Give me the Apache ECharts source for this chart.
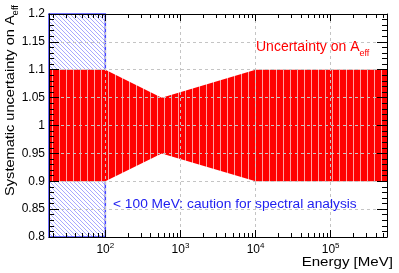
<!DOCTYPE html>
<html><head><meta charset="utf-8">
<script src="https://cdn.jsdelivr.net/npm/echarts@6/dist/echarts.min.js"></script>
<style>html,body{margin:0;padding:0;background:#fff}#c{width:399px;height:273px}</style>
</head><body><div id="c"></div>
<script>
// ---- data ----
const energies = [17.7828, 100, 562.34, 10000, 562341];   // MeV
const upper = [1.1, 1.1, 1.05, 1.1, 1.1];
const lower = [0.9, 0.9, 0.95, 0.9, 0.9];
const cautionEnergy = [17.7828, 100];
const cautionY = [0.8, 1.2];
const xMin = 17.7828, xMax = 562341;
const yMin = 0.8, yMax = 1.2, yStep = 0.05;
const xMajorTicks = [100, 1000, 10000, 100000];
const xMajorExp = {100: '2', 1000: '3', 10000: '4', 100000: '5'};
const xMinorMult = [2, 3, 4, 5, 6, 7, 8, 9];
const xDecades = [10, 100, 1000, 10000, 100000];

const xMinorTicks = [];
xDecades.forEach(d => xMinorMult.forEach(m => { const v = d * m; if (v > xMin && v < xMax) xMinorTicks.push(v); }));

const FONT = 'Liberation Sans, Arial, Helvetica, sans-serif';

function makeRed() {
  const c = document.createElement('canvas'); c.width = 7; c.height = 8;
  const g = c.getContext('2d');
  g.fillStyle = '#ff0000'; g.fillRect(0, 0, 7, 8);
  g.fillStyle = '#ffa0a0'; g.fillRect(3, 0, 1, 8);
  return c;
}
function makeBlue() {
  const c = document.createElement('canvas'); c.width = 4; c.height = 4;
  const g = c.getContext('2d');
  g.fillStyle = '#ffffff'; g.fillRect(0, 0, 4, 4);
  g.fillStyle = 'rgba(110,110,255,0.6)';
  for (let i = 0; i < 4; i++) g.fillRect(i, i, 1, 1);
  return c;
}
const redCanvas = makeRed(), blueCanvas = makeBlue();

const chart = echarts.init(document.getElementById('c'), null, {renderer: 'canvas'});

const gridLine = {show: true, lineStyle: {color: '#c4c4c4', type: [3, 3], width: 1}};
function xAxisDef(pos, major, labels) {
  return {
    type: 'log', logBase: 10, min: xMin, max: xMax, position: pos, z: 5,
    axisLine: {show: major, lineStyle: {color: '#000', width: 1}},
    axisTick: {show: true, inside: true, length: major ? 7 : 4, customValues: major ? xMajorTicks : xMinorTicks, lineStyle: {color: '#000'}},
    axisLabel: labels ? {
      show: true, customValues: xMajorTicks, margin: 5,
      formatter: v => '{b|10}{s|' + (xMajorExp[Math.round(v)] || '') + '}',
      rich: {b: {fontSize: 12, fontFamily: FONT, color: '#000', lineHeight: 16}, s: {fontSize: 8, fontFamily: FONT, color: '#000', verticalAlign: 'top'}}
    } : {show: false},
    splitLine: (major && pos === 'bottom') ? gridLine : {show: false},
    minorTick: {show: false}
  };
}
function yAxisDef(pos, labels) {
  return {
    type: 'value', min: yMin, max: yMax, interval: yStep, position: pos, z: 5,
    axisLine: {show: true, lineStyle: {color: '#000', width: 1}},
    axisTick: {show: true, inside: true, length: 10, lineStyle: {color: '#000'}},
    minorTick: {show: true, splitNumber: 5, length: 5, lineStyle: {color: '#000'}},
    axisLabel: labels ? {show: true, margin: 4, fontSize: 12, fontFamily: FONT, color: '#000'} : {show: false},
    splitLine: labels ? gridLine : {show: false}
  };
}

chart.setOption({
  animation: false,
  backgroundColor: '#fff',
  grid: {left: 49, right: 12, top: 14, bottom: 36, containLabel: false},
  xAxis: [xAxisDef('bottom', true, true), xAxisDef('bottom', false, false), xAxisDef('top', true, false), xAxisDef('top', false, false)],
  yAxis: [yAxisDef('left', true), yAxisDef('right', false)],
  series: [
    {
      type: 'custom', xAxisIndex: 0, yAxisIndex: 0, z: 1, silent: true,
      data: [[cautionEnergy[0], cautionY[0], cautionEnergy[1], cautionY[1]]],
      encode: {x: [0, 2], y: [1, 3]},
      renderItem: (params, api) => {
        const p1 = api.coord([api.value(0), api.value(3)]);
        const p2 = api.coord([api.value(2), api.value(1)]);
        const shape = {x: p1[0], y: p1[1], width: p2[0] - p1[0], height: p2[1] - p1[1]};
        return {type: 'group', children: [
          {type: 'rect', shape, style: {fill: {image: blueCanvas, repeat: 'repeat'}}},
          {type: 'rect', shape, style: {fill: null, stroke: '#4646ff', lineWidth: 1.5}}
        ]};
      }
    },
    {
      type: 'custom', xAxisIndex: 0, yAxisIndex: 0, z: 2, silent: true,
      data: energies.map((e, i) => [e, upper[i], lower[i]]),
      encode: {x: 0, y: [1, 2]},
      renderItem: (params, api) => {
        if (params.dataIndex !== 0) return null;
        const top = energies.map((e, i) => api.coord([e, upper[i]]));
        const bot = energies.map((e, i) => api.coord([e, lower[i]])).reverse();
        return {type: 'polygon', shape: {points: top.concat(bot)}, style: {fill: {image: redCanvas, repeat: 'repeat'}}};
      }
    }
  ],
  graphic: [
    {type: 'text', x: 256, y: 47, z: 10, style: {
      text: '{a|Uncertainty on A}{s|eff}', verticalAlign: 'middle',
      rich: {a: {fontSize: 14, fontFamily: FONT, fill: '#ff0000', lineHeight: 22}, s: {fontSize: 9, fontFamily: FONT, fill: '#ff0000', verticalAlign: 'bottom'}}
    }},
    {type: 'text', x: 113, y: 205, z: 10, scaleX: 1.1, style: {
      text: '< 100 MeV: caution for spectral analysis', verticalAlign: 'middle',
      fontSize: 12.5, fontFamily: FONT, fill: '#2020f0'
    }},
    {type: 'text', x: 393, y: 262, z: 10, scaleX: 1.16, style: {
      text: 'Energy [MeV]', align: 'right', verticalAlign: 'middle',
      fontSize: 13, fontFamily: FONT, fill: '#000'
    }},
    {type: 'text', x: 10, y: 5, rotation: Math.PI / 2, scaleX: 1.12, z: 10, style: {
      text: '{a|Systematic uncertainty on A}{s|eff}', align: 'right', verticalAlign: 'middle',
      rich: {a: {fontSize: 13, fontFamily: FONT, fill: '#000', lineHeight: 20}, s: {fontSize: 8.5, fontFamily: FONT, fill: '#000', verticalAlign: 'bottom'}}
    }}
  ]
});
</script></body></html>
